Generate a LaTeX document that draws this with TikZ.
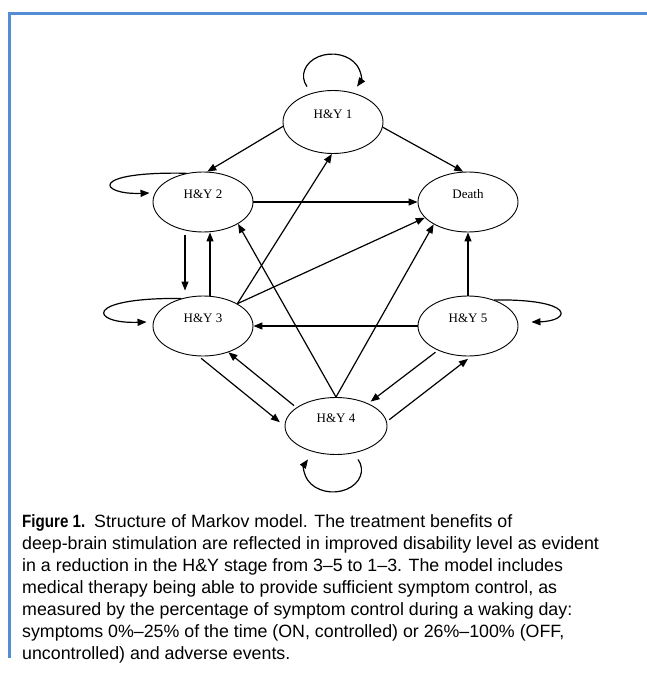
\documentclass[tikz,border=0pt]{standalone}
\usepackage{fontspec}
\setmainfont{Liberation Serif}
\newfontfamily\capfont{Liberation Sans}
\usetikzlibrary{shapes.geometric,arrows.meta}
\definecolor{frameblue}{RGB}{84,141,212}
\begin{document}
\begin{tikzpicture}[x=1pt,y=-1pt,
  state/.style={draw, ellipse, line width=0.9pt, minimum width=100pt, minimum height=60pt,
    inner sep=0pt, text height=9pt, text depth=17pt, font=\fontsize{13}{15}\selectfont},
  arr/.style={line width=1.2pt, -{Triangle[length=9pt,width=7pt]}},
  captext/.style={anchor=base west, inner sep=0pt, font=\capfont\fontsize{17.8}{22}\selectfont}]
\useasboundingbox (0,0) rectangle (647,677);
\fill[white] (0,0) rectangle (647,677);
\draw[frameblue, line width=3pt, line join=miter] (9,658) -- (9,13.5) -- (648,13.5);

% states
\node[state, minimum height=63pt] (h1) at (333,122) {H\&Y 1};
\node[state] (h2) at (203,202) {H\&Y 2};
\node[state] (d)  at (468,202) {Death};
\node[state] (h3) at (203,326) {H\&Y 3};
\node[state] (h5) at (468,326) {H\&Y 5};
\node[state, minimum width=102pt, minimum height=57pt] (h4) at (336,426) {H\&Y 4};

% transitions
\draw[arr] (h1.185) -- (h2.82);
\draw[arr] (h1.-6) -- (d.99);
\draw[arr] (h2.east) -- (d.west);
\draw[arr, shorten <=3pt, shorten >=5pt] ([xshift=-18pt]h2.south) -- ([xshift=-18pt]h3.north);
\draw[arr] ([xshift=7pt]h3.north) -- ([xshift=7pt]h2.south);
\draw[arr] (h3.33) -- (h1.268);
\draw[arr] (h3.33) -- (d.200);
\draw[arr] (h4.north) -- (h2.-32);
\draw[arr] (h4.north) -- (d.213);
\draw[arr] (h5.north) -- (d.south);
\draw[arr] (h5.west) -- (h3.east);
\draw[arr, shorten <=3pt, shorten >=3pt] (h5.219) -- (h4.35);
\draw[arr, shorten <=3pt, shorten >=4pt] (h4.5) -- (h5.-84);
\draw[arr, shorten <=3pt, shorten >=6pt] (h3.262) -- (h4.180);
\draw[arr, shorten <=3pt] (h4.155) -- (h3.-46);

% self loops
\coordinate (l1) at ([xshift=-1pt,yshift=14pt]h1.north);
\draw[arr] (l1) ++(208.7:28.5pt and 22pt) arc[start angle=208.7, end angle=-28.7, x radius=28.5pt, y radius=22pt];
\coordinate (l4) at ([xshift=-3pt,yshift=-15pt]h4.south);
\draw[arr] (l4) ++(28.7:28.5pt and 22pt) arc[start angle=28.7, end angle=-208.7, x radius=28.5pt, y radius=22pt];
\draw[arr] (h2.120) .. controls +(-100,-2) and +(-50,2) .. ([xshift=-3pt,yshift=9pt]h2.west);
\draw[arr] (h3.128) .. controls +(-100,-1) and +(-56,2) .. ([xshift=-6pt,yshift=4pt]h3.west);
\draw[arr] (h5.45) .. controls +(82,-1) and +(40,-1) .. ([xshift=13pt,yshift=4pt]h5.east);

% caption
\node[captext] (c1) at (22,527) {\textbf{\addfontfeature{FakeStretch=0.85}Figure 1.}\enspace Structure of Markov model. The treatment benefits of};
\node[captext] (c2) at (22,549) {deep-brain stimulation are reflected in improved disability level as evident};
\node[captext] (c3) at (22,571) {in a reduction in the H\&Y stage from 3–5 to 1–3. The model includes};
\node[captext] (c4) at (22,593) {medical therapy being able to provide sufficient symptom control, as};
\node[captext] (c5) at (22,615) {measured by the percentage of symptom control during a waking day:};
\node[captext] (c6) at (22,637) {symptoms 0\%–25\% of the time (ON, controlled) or 26\%–100\% (OFF,};
\node[captext] (c7) at (22,659) {uncontrolled) and adverse events.};
\end{tikzpicture}
\end{document}
